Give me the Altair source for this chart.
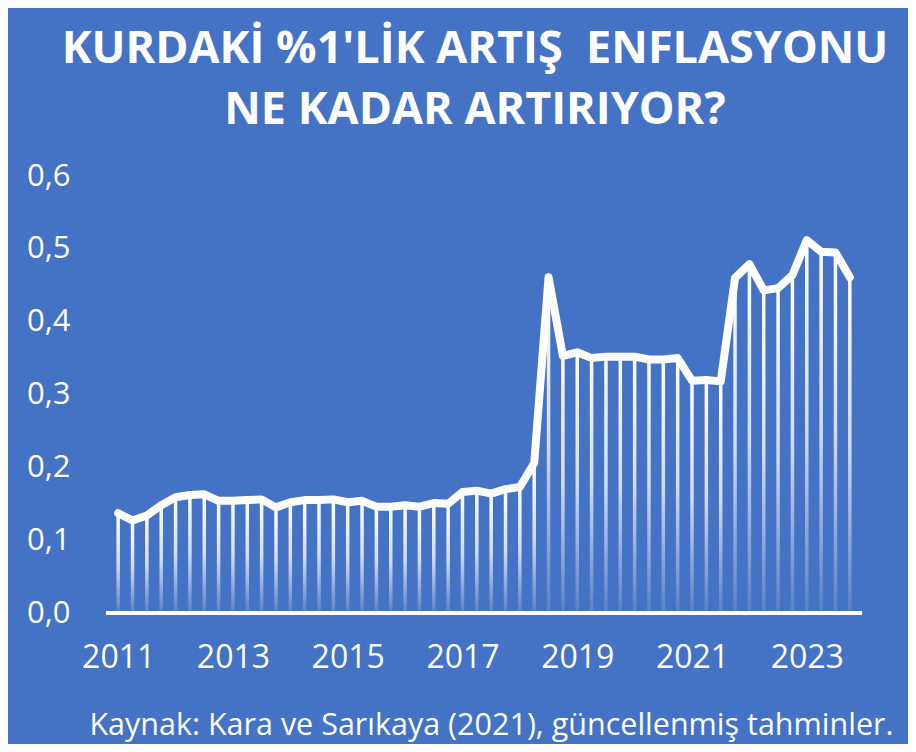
import altair as alt
import pandas as pd

# Quarterly estimates, 2011Q1 .. 2023Q4
years = [2011, 2012, 2013, 2014, 2015, 2016, 2017, 2018, 2019, 2020, 2021, 2022, 2023]
quarters = ["Q1", "Q2", "Q3", "Q4"]
values = [
    0.137, 0.127, 0.134, 0.148,   # 2011
    0.159, 0.162, 0.163, 0.154,   # 2012
    0.154, 0.155, 0.156, 0.145,   # 2013
    0.152, 0.155, 0.155, 0.156,   # 2014
    0.152, 0.154, 0.146, 0.146,   # 2015
    0.148, 0.146, 0.151, 0.150,   # 2016
    0.166, 0.168, 0.164, 0.170,   # 2017
    0.173, 0.206, 0.461, 0.353,   # 2018
    0.358, 0.350, 0.352, 0.352,   # 2019
    0.352, 0.348, 0.348, 0.350,   # 2020
    0.319, 0.320, 0.318, 0.460,   # 2021
    0.479, 0.443, 0.446, 0.464,   # 2022
    0.512, 0.496, 0.495, 0.461,   # 2023
]
title_lines = ["KURDAKİ %1'LİK ARTIŞ\u00a0 ENFLASYONU", "NE KADAR ARTIRIYOR?"]
source_text = "Kaynak: Kara ve Sarıkaya (2021), güncellenmiş tahminler."

labels = [f"{y}{q}" for y in years for q in quarters]
df = pd.DataFrame({"idx": list(range(len(values))), "period": labels, "value": values})

FONT = "Open Sans, Lato, sans-serif"
BG = "#4472C4"

x_enc = alt.X(
    "idx:Q",
    scale=alt.Scale(domain=[-0.5, len(values) - 0.5], nice=False, zero=False),
    axis=alt.Axis(
        values=list(range(0, len(values), 8)),
        labelExpr="toString(2011 + datum.value / 4)",
        domain=False, ticks=False, tickSize=0, grid=False,
        labelColor="white", labelFont=FONT, labelFontSize=32,
        labelPadding=29, labelBaseline="top",
        title=source_text, titleColor="white", titleFont=FONT,
        titleFontSize=30.5, titleFontWeight="normal",
        titleAnchor="end", titleAlign="right", titleBaseline="alphabetic",
        titleX=787, titleY=121,
    ),
)
y_enc = alt.Y(
    "value:Q",
    scale=alt.Scale(domain=[0, 0.6], nice=False),
    axis=alt.Axis(
        values=[0, 0.1, 0.2, 0.3, 0.4, 0.5, 0.6],
        labelExpr="replace(format(datum.value, '.1f'), '.', ',')",
        domain=False, ticks=False, tickSize=0, grid=False,
        labelColor="white", labelFont=FONT, labelFontSize=31,
        labelPadding=36, title=None,
    ),
)

base = alt.Chart(df)

drops = base.mark_bar(
    size=3.5,
    color=alt.Gradient(
        gradient="linear", x1=0, y1=0, x2=0, y2=1,
        stops=[
            alt.GradientStop(color="rgba(255,255,255,1)", offset=0),
            alt.GradientStop(color="rgba(255,255,255,0.75)", offset=0.5),
            alt.GradientStop(color="rgba(255,255,255,0.1)", offset=1),
        ],
    ),
).encode(x=x_enc, y=y_enc)

baseline = base.mark_rule(color="white", strokeWidth=4).encode(y=alt.datum(0))

line = base.mark_line(
    color="white", strokeWidth=8, strokeJoin="round", strokeCap="round"
).encode(x=x_enc, y=y_enc, tooltip=["period:N", "value:Q"])

chart = (
    alt.layer(drops, baseline, line)
    .properties(
        width=756,
        height=437,
        background=BG,
        autosize=alt.AutoSizeParams(type="none"),
        padding={"left": 98, "top": 168, "right": 46, "bottom": 131},
        title=alt.TitleParams(
            text=title_lines, color="white", font=FONT, fontSize=45,
            fontWeight="bold", anchor="middle", frame="group",
            lineHeight=61, offset=27, dx=-9,
        ),
    )
    .configure_view(stroke=None)
)

chart.save("out.html", embed_options={"renderer": "svg", "actions": False})
